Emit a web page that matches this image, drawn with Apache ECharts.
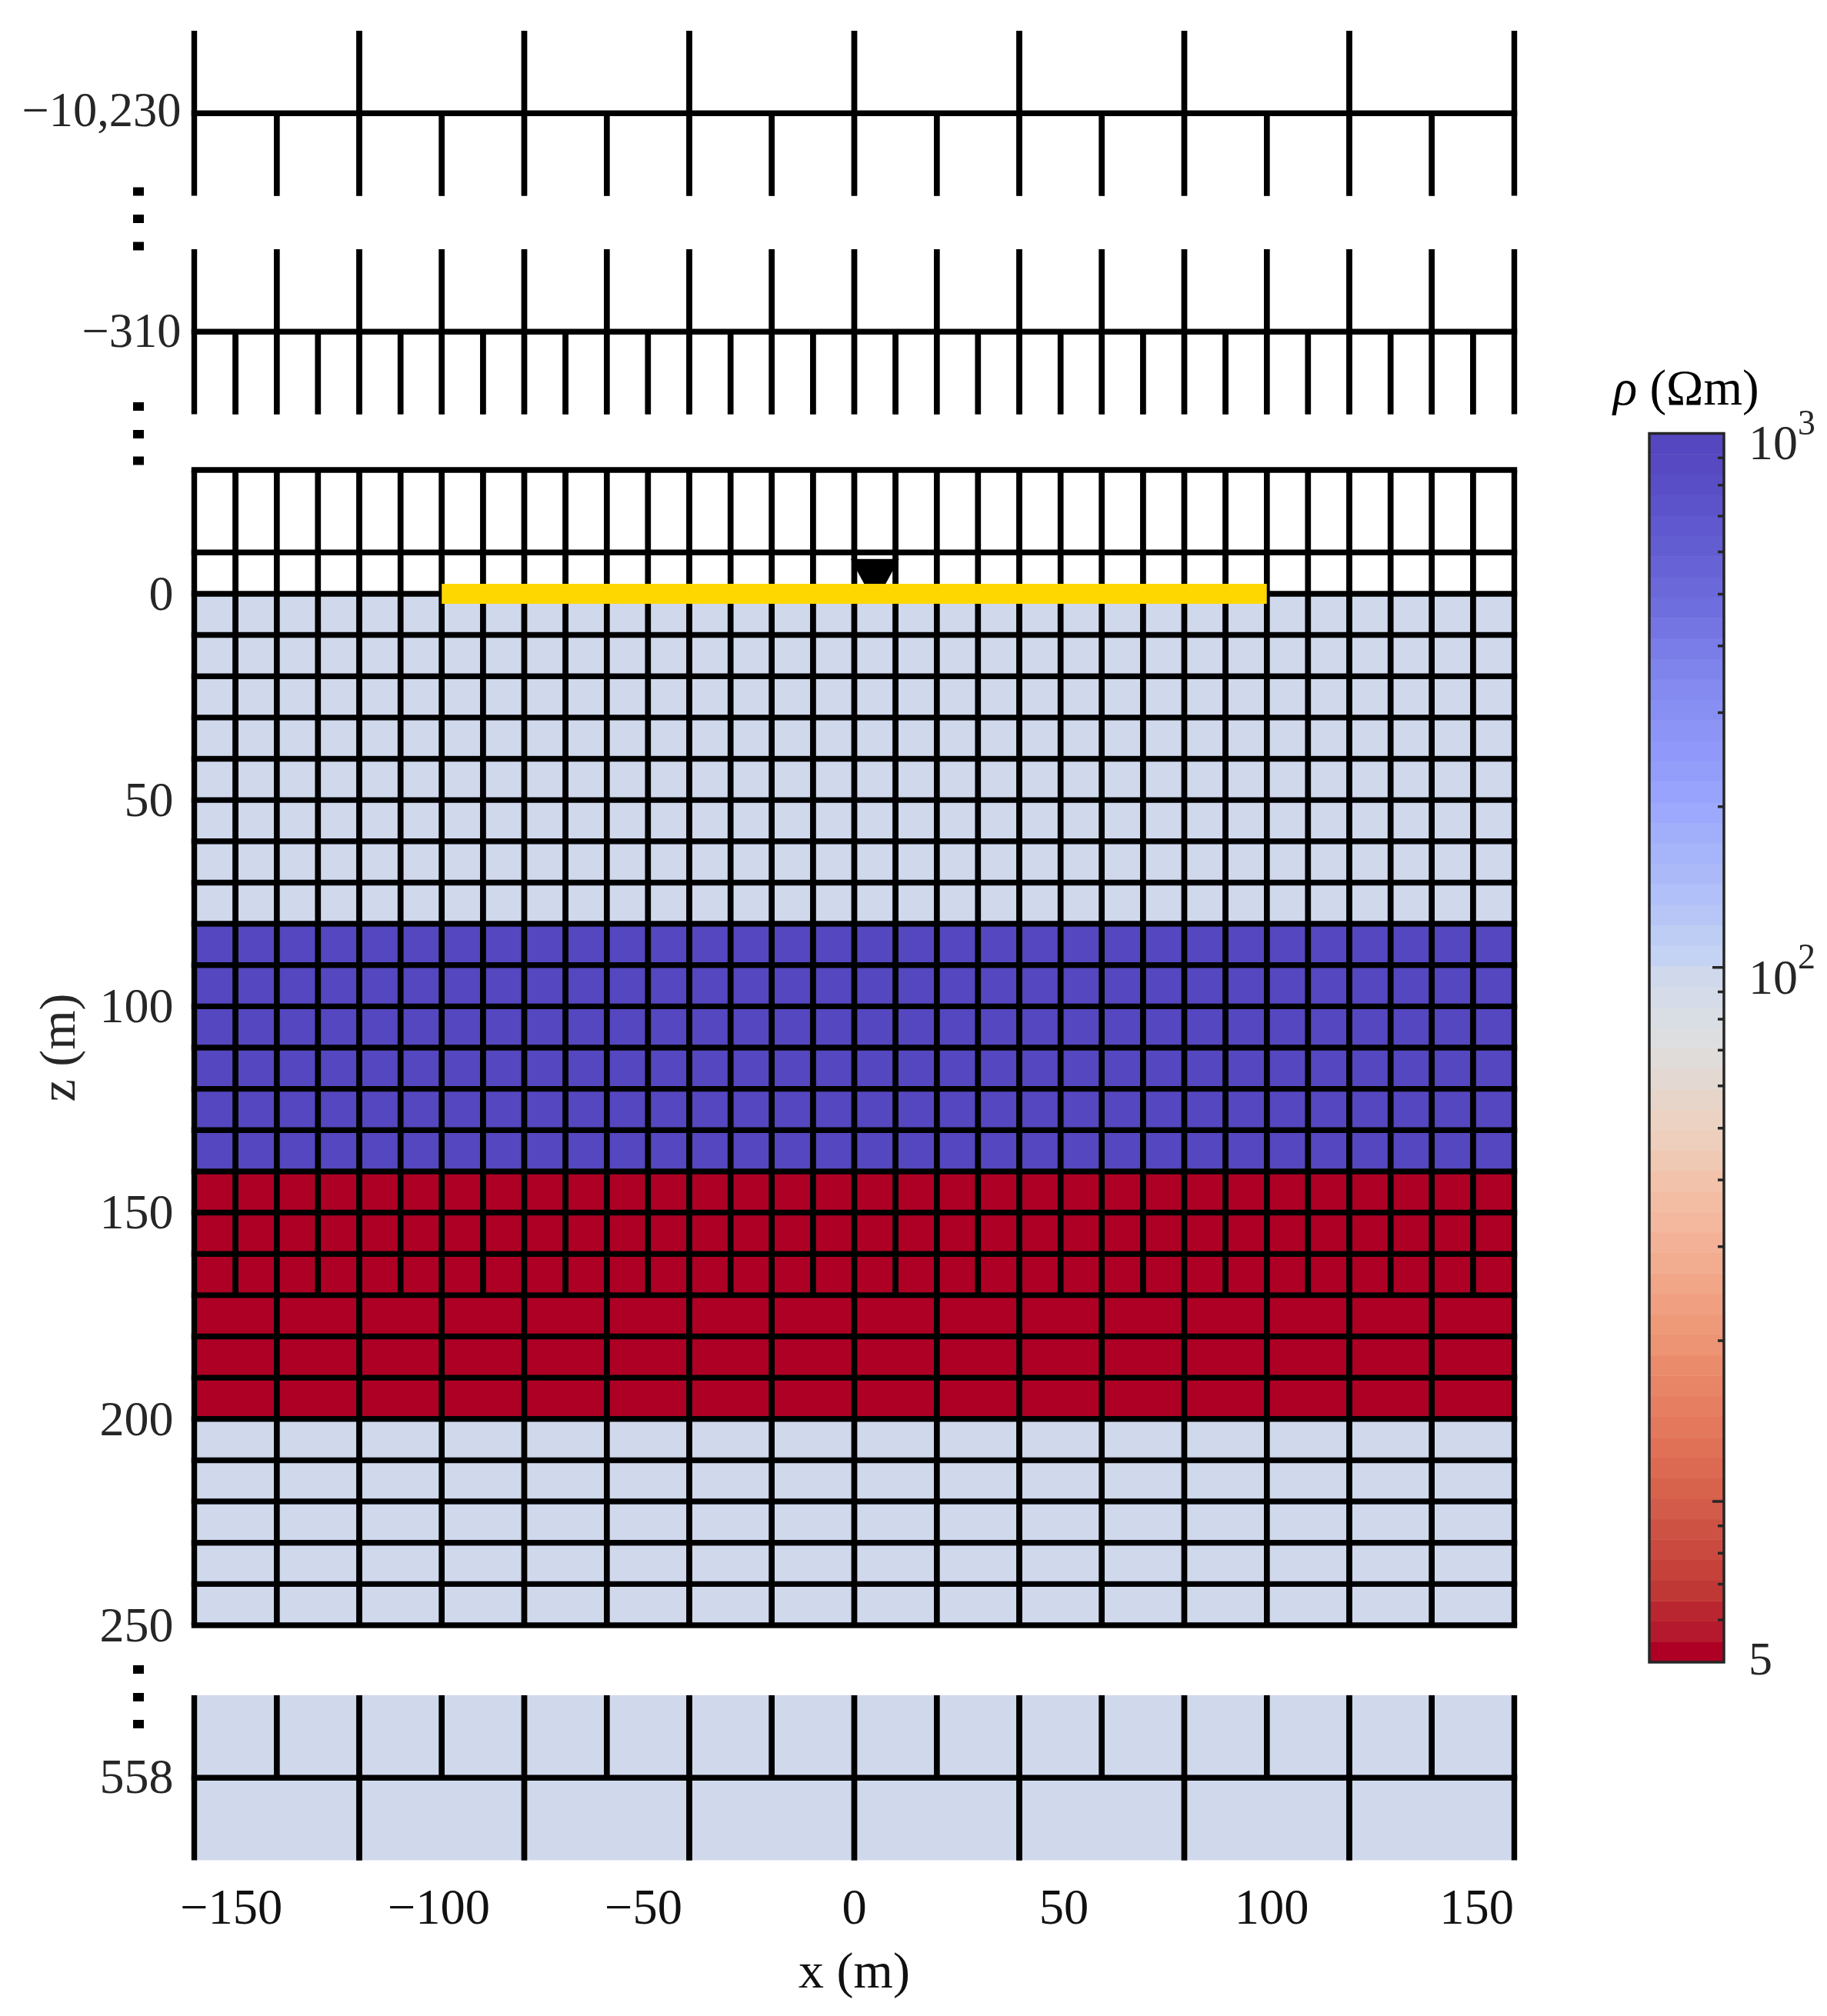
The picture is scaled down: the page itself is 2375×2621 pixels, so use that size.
<!DOCTYPE html>
<html>
<head>
<meta charset="utf-8">
<title>resistivity mesh</title>
<style>
  html, body { margin: 0; padding: 0; background: #fff; }
  #stage { width: 2375px; height: 2621px; }
</style>
<script src="https://cdn.jsdelivr.net/npm/echarts@6/dist/echarts.min.js"></script>
</head>
<body>
<div id="stage"></div>
<script>
'use strict';

// mesh layers, one block per panel. dx and rho have one entry per layer, rho 0 = air (no fill)
const farTopEdges = [-10250, -10230, -10210];
const farTopDx = [40, 20];
const farTopRho = [0, 0];
const farTopLines = [-10230];

const nearTopEdges = [-330, -310, -290];
const nearTopDx = [20, 10];
const nearTopRho = [0, 0];
const nearTopLines = [-310];

const mainEdges = [-30, -10, 0, 10, 20, 30, 40, 50, 60, 70, 80, 90, 100, 110, 120, 130, 140, 150, 160, 170, 180, 190, 200, 210, 220, 230, 240, 250];
const mainDx = [10, 10, 10, 10, 10, 10, 10, 10, 10, 10, 10, 10, 10, 10, 10, 10, 10, 10, 10, 20, 20, 20, 20, 20, 20, 20, 20];
const mainRho = [0, 0, 100, 100, 100, 100, 100, 100, 100, 100, 1000, 1000, 1000, 1000, 1000, 1000, 5, 5, 5, 5, 5, 5, 100, 100, 100, 100, 100];
const mainLines = mainEdges;

const bottomEdges = [538, 558, 578];
const bottomDx = [20, 40];
const bottomRho = [100, 100];
const bottomLines = [558];

// tick labels. the printed x labels sit a little wider apart than the mesh, hence the anchors
const xTicks = [-150, -100, -50, 0, 50, 100, 150];
const xLabelAnchors = [-151, -100.7, -51.1, 0, 50.8, 101.2, 150.9];
const mainZTicks = [0, 50, 100, 150, 200, 250];
const rhoMajorTicks = [10, 100];
const rhoMinorTicks = [6, 7, 8, 9, 20, 30, 40, 50, 60, 70, 80, 90, 200, 300, 400, 500, 600, 700, 800, 900];
const rhoLabels = { 5: '5', 100: '{num|10}{sup|2}', 1000: '{num|10}{sup|3}' };

// survey line and water table marker
const surveyLine = [[-100, 0], [100, 0]];
const waterTable = [[5, -3]];

// colormap, top (1000) to bottom (5)
const cbarColors = [
  '#5447BF', '#5749C1', '#594EC5', '#5C53CA', '#6058CE', '#635DD2', '#6762D6', '#6B68DA', '#6F6EDF', '#7474E3',
  '#7A7CE8', '#7F83EC', '#848AF0', '#888FF3', '#8C95F6', '#9099F9', '#939EFB', '#97A3FC', '#9CA9FC', '#A1AFFB',
  '#A6B4FA', '#ABB9F9', '#B1C0F8', '#B7C6F6', '#BECDF4', '#C4D2F3', '#D0D8EC', '#D5DBE9', '#D9DDE4', '#DDDEDF',
  '#E0DCD9', '#E3D9D2', '#E7D5CA', '#EBD2C3', '#EECEBC', '#F0C9B4', '#F2C2AB', '#F3BDA4', '#F4B89E', '#F3B297',
  '#F2AC90', '#F1A688', '#F0A080', '#EE9A79', '#EC9474', '#EA8C6C', '#E88566', '#E67E61', '#E3785C', '#E07157',
  '#DC6A52', '#D8634D', '#D35B49', '#CE5244', '#CA4A40', '#C5413A', '#C03835', '#BA2630', '#B5192E', '#AE0024'
];

const RHO_MIN = 5;
const RHO_MAX = 1000;
const LINE_W = 7.4;
const FONT = '"Liberation Serif", "Times New Roman", serif';
const INK = '#262626';

const stage = echarts.init(document.getElementById('stage'));

function rhoColor(rho) {
  if (!rho) return 'none';
  const f = Math.log(RHO_MAX / rho) / Math.log(RHO_MAX / RHO_MIN);
  return cbarColors[Math.min(Math.floor(f * cbarColors.length), cbarColors.length - 1)];
}

// expand the layers of a panel to cells [x0, x1, z0, z1, rho]
function buildCells(edges, dx, rho) {
  const cells = [];
  for (let i = 0; i < dx.length; i++) {
    for (let x = -160; x < 160; x += dx[i]) {
      cells.push([x, x + dx[i], edges[i], edges[i + 1], rho[i]]);
    }
  }
  return cells;
}

function renderCell(params, api) {
  const p0 = api.coord([api.value(0), api.value(2)]);
  const p1 = api.coord([api.value(1), api.value(3)]);
  const lineStyle = { stroke: '#000', lineWidth: LINE_W, fill: null };
  return {
    type: 'group',
    children: [
      {
        type: 'rect',
        shape: { x: p0[0], y: p0[1], width: p1[0] - p0[0], height: p1[1] - p0[1] },
        style: { fill: rhoColor(api.value(4)) },
        z2: 0
      },
      {
        type: 'line',
        shape: { x1: p0[0], y1: p0[1], x2: p0[0], y2: p1[1] },
        style: lineStyle,
        z2: 2
      },
      {
        type: 'line',
        shape: { x1: p1[0], y1: p0[1], x2: p1[0], y2: p1[1] },
        style: lineStyle,
        z2: 2
      }
    ]
  };
}

function renderHLine(params, api) {
  const p0 = api.coord([-160, api.value(0)]);
  const p1 = api.coord([160, api.value(0)]);
  return {
    type: 'line',
    shape: { x1: p0[0] - LINE_W / 2, y1: p0[1], x2: p1[0] + LINE_W / 2, y2: p1[1] },
    style: { stroke: '#000', lineWidth: LINE_W, fill: null }
  };
}

const panels = [
  { edges: farTopEdges, dx: farTopDx, rho: farTopRho, lines: farTopLines, top: 40, height: 214.6, labels: [-10230], margin: 17, size: 62.5, pad: 0 },
  { edges: nearTopEdges, dx: nearTopDx, rho: nearTopRho, lines: nearTopLines, top: 324, height: 214.6, labels: [-310], margin: 17, size: 62.5, pad: 6 },
  { edges: mainEdges, dx: mainDx, rho: mainRho, lines: mainLines, top: 611, height: 1502, labels: mainZTicks, margin: 27, size: 64, pad: 8 },
  { edges: bottomEdges, dx: bottomDx, rho: bottomRho, lines: bottomLines, top: 2204, height: 214.6, labels: [558], margin: 27, size: 64, pad: 6 }
];

function zLabel(v) {
  if (v === -10230) return '\u221210,230';
  return v < 0 ? '\u2212' + Math.abs(v) : String(v);
}

const grids = [];
const xAxes = [];
const yAxes = [];
const series = [];

panels.forEach((p, i) => {
  grids.push({ left: 252.5, width: 1716, top: p.top, height: p.height });
  const isBottom = i === panels.length - 1;
  xAxes.push({
    gridIndex: i,
    type: 'value',
    min: -160,
    max: 160,
    axisLine: { show: false },
    axisTick: { show: false },
    splitLine: { show: false },
    axisLabel: isBottom ? {
      show: true,
      customValues: xLabelAnchors,
      formatter: (v) => zLabel(xTicks[xLabelAnchors.indexOf(v)]),
      margin: 33,
      color: '#111',
      fontFamily: FONT,
      fontSize: 64.5
    } : { show: false },
    name: isBottom ? 'x (m)' : '',
    nameLocation: 'middle',
    nameGap: 115,
    nameTextStyle: { color: '#111', fontFamily: FONT, fontSize: 66 }
  });
  yAxes.push({
    gridIndex: i,
    type: 'value',
    inverse: true,
    min: p.edges[0],
    max: p.edges[p.edges.length - 1],
    axisLine: { show: false },
    axisTick: { show: false },
    splitLine: { show: false },
    axisLabel: {
      customValues: p.labels,
      // rich padding nudges the digits down to where the reference prints them
      formatter: (v) => '{n|' + zLabel(v) + '}',
      margin: p.margin,
      color: INK,
      fontFamily: FONT,
      fontSize: p.size,
      rich: { n: { fontFamily: FONT, fontSize: p.size, color: INK, padding: [p.pad, 0, 0, 0] } }
    },
    name: i === 2 ? 'z (m)' : '',
    nameLocation: 'middle',
    nameGap: 140,
    nameRotate: 90,
    nameTextStyle: { color: INK, fontFamily: FONT, fontSize: 66 }
  });
  series.push({
    type: 'custom',
    xAxisIndex: i,
    yAxisIndex: i,
    z: 2,
    renderItem: renderCell,
    encode: { x: [0, 1], y: [2, 3] },
    silent: true,
    data: buildCells(p.edges, p.dx, p.rho)
  });
  series.push({
    type: 'custom',
    xAxisIndex: i,
    yAxisIndex: i,
    z: 3,
    renderItem: renderHLine,
    encode: { y: 0 },
    silent: true,
    data: p.lines.map((z) => [z])
  });
});

// water table marker and survey line sit on the main panel
series.push({
  type: 'scatter',
  xAxisIndex: 2,
  yAxisIndex: 2,
  z: 4,
  symbol: 'triangle',
  symbolRotate: 180,
  symbolSize: [63, 58],
  itemStyle: { color: '#000', opacity: 1 },
  silent: true,
  data: waterTable
});
series.push({
  type: 'line',
  xAxisIndex: 2,
  yAxisIndex: 2,
  z: 5,
  symbol: 'none',
  lineStyle: { color: '#FFD700', width: 26, cap: 'butt' },
  silent: true,
  data: surveyLine
});

// colorbar on its own log axis
const CB = panels.length;
const bandRatio = Math.pow(RHO_MAX / RHO_MIN, 1 / cbarColors.length);
grids.push({ left: 2144, width: 97, top: 563.5, height: 1597.5 });
xAxes.push({ gridIndex: CB, type: 'value', min: 0, max: 1, show: false });
yAxes.push({
  gridIndex: CB,
  type: 'log',
  position: 'right',
  min: RHO_MIN,
  max: RHO_MAX,
  splitLine: { show: false },
  axisLine: { show: false },
  axisTick: { show: false },
  axisLabel: {
    customValues: [5, 100, 1000],
    margin: 32,
    formatter: (v) => rhoLabels[Math.round(v)],
    color: INK,
    fontFamily: FONT,
    fontSize: 62,
    rich: {
      num: { fontFamily: FONT, fontSize: 64, color: INK, padding: [34, 0, 0, 0], verticalAlign: 'bottom' },
      sup: { fontFamily: FONT, fontSize: 46, color: INK, padding: [15, 0, 0, 0], verticalAlign: 'top' }
    }
  }
});
series.push({
  type: 'custom',
  xAxisIndex: CB,
  yAxisIndex: CB,
  z: 2,
  silent: true,
  encode: { y: [0, 1] },
  renderItem(params, api) {
    const p0 = api.coord([0, api.value(0)]);
    const p1 = api.coord([1, api.value(1)]);
    return {
      type: 'rect',
      shape: { x: p0[0], y: p1[1], width: p1[0] - p0[0], height: p0[1] - p1[1] + 0.5 },
      style: { fill: cbarColors[cbarColors.length - 1 - params.dataIndex] }
    };
  },
  data: cbarColors.map((c, i) => [RHO_MIN * Math.pow(bandRatio, i), RHO_MIN * Math.pow(bandRatio, i + 1)])
});
series.push({
  type: 'custom',
  xAxisIndex: CB,
  yAxisIndex: CB,
  z: 3,
  silent: true,
  encode: { y: 0 },
  renderItem(params, api) {
    const p = api.coord([1, api.value(0)]);
    return {
      type: 'line',
      shape: { x1: p[0] - api.value(1), y1: p[1], x2: p[0], y2: p[1] },
      style: { stroke: INK, lineWidth: 3.5, fill: null }
    };
  },
  data: rhoMajorTicks.map((v) => [v, 15]).concat(rhoMinorTicks.map((v) => [v, 8]))
});
series.push({
  type: 'custom',
  xAxisIndex: CB,
  yAxisIndex: CB,
  z: 4,
  silent: true,
  encode: { y: 0 },
  renderItem(params, api) {
    const p0 = api.coord([0, RHO_MAX]);
    const p1 = api.coord([1, RHO_MIN]);
    return {
      type: 'rect',
      shape: { x: p0[0], y: p0[1], width: p1[0] - p0[0], height: p1[1] - p0[1] },
      style: { fill: null, stroke: INK, lineWidth: 3.5 }
    };
  },
  data: [[RHO_MAX]]
});

// axis break dots between the panels
const breakDots = [249, 284.5, 320, 528.5, 564.5, 599, 2170.5, 2206.5, 2241.5];

const option = {
  backgroundColor: '#fff',
  animation: false,
  title: {
    text: '{rho|\u03C1} (\u03A9m)',
    left: 2097,
    top: 476,
    padding: 0,
    textStyle: {
      color: '#000',
      fontFamily: FONT,
      fontSize: 65,
      fontWeight: 'normal',
      rich: { rho: { fontFamily: FONT, fontStyle: 'italic', fontSize: 65, color: '#000' } }
    }
  },
  grid: grids,
  xAxis: xAxes,
  yAxis: yAxes,
  series: series,
  graphic: breakDots.map((y) => ({
    type: 'rect',
    shape: { x: 173, y: y - 5.5, width: 14, height: 11 },
    style: { fill: '#000' },
    silent: true
  }))
};

stage.setOption(option);
</script>
</body>
</html>
